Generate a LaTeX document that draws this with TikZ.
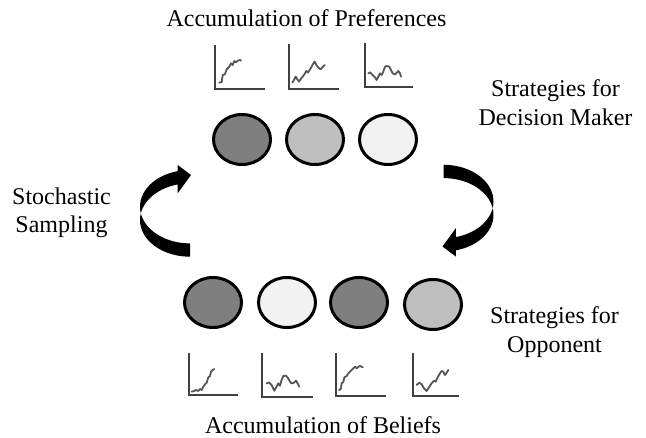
\documentclass[tikz,border=0pt]{standalone}
\usepackage{fontspec}
\setmainfont{Liberation Serif}
\usetikzlibrary{shapes.geometric}
\definecolor{gdark}{HTML}{7F7F7F}
\definecolor{gmid}{HTML}{BFBFBF}
\definecolor{glight}{HTML}{F2F2F2}
\definecolor{axiscol}{HTML}{404040}
\definecolor{curvecol}{HTML}{555555}
\begin{document}
\begin{tikzpicture}[x=1pt,y=-1pt,
  strat/.style={ellipse, draw=black, line width=3pt, minimum width=57pt, minimum height=50pt, inner sep=0pt},
  lbl/.style={font=\fontsize{24}{28.5}\selectfont, inner sep=0pt, align=center},
  axisline/.style={draw=axiscol, line width=1.8pt},
  curveline/.style={draw=curvecol, line width=1.8pt, line join=round, line cap=round},
  curvarrow/.pic={
    \fill[black] plot[domain=90:255.8,samples=50] ({50*cos(\x)},{36.7*sin(\x)})
      -- (-12.3,-26.7) -- (1,-45) -- (-12.3,-55)
      -- plot[domain=255.8:90,samples=50] ({50*cos(\x)},{-13.3+36.7*sin(\x)})
      -- cycle;
  }
]
\useasboundingbox (0,0) rectangle (646,438);

% texts
\node[lbl, anchor=base] (tpref) at (306.5,27) {Accumulation of Preferences};
\node[lbl] (tdm) at (555.5,102.5) {Strategies for\\Decision Maker};
\node[lbl] (tss) at (61.5,212.9) {Stochastic\\Sampling};
\node[lbl] (topp) at (554.5,331.9) {Strategies for\\Opponent};
\node[lbl, anchor=base] (tbel) at (323,434) {Accumulation of Beliefs};

% decision maker strategies
\node[strat, fill=gdark]  (p1) at (242,139.5) {};
\node[strat, fill=gmid]   (p2) at (315,139.5) {};
\node[strat, fill=glight] (p3) at (388,139.5) {};

% opponent strategies
\node[strat, fill=gdark]  (b1) at (213,302.5) {};
\node[strat, fill=glight] (b2) at (287,302.5) {};
\node[strat, fill=gdark]  (b3) at (359,302.5) {};
\node[strat, fill=gmid]   (b4) at (433,304.5) {};

% curved arrows
\pic (arl) at (190,220) {curvarrow};
\pic[rotate=180] (arr) at (443.5,201.5) {curvarrow};

% top charts
\begin{scope}[shift={(215,89)}]
  \draw[axisline] (0,-44) |- (50,0);
  \draw[curveline] (4.3,-6.3) -- (6.7,-7) -- (7.7,-14) -- (10,-14.7) -- (11.7,-19.7) -- (14.3,-22.3) -- (16,-25.7) -- (17.7,-24) -- (19.3,-28) -- (21,-26.7) -- (22.7,-28.3) -- (25,-29) -- (26,-28.3);
\end{scope}
\begin{scope}[shift={(289,89.3)}]
  \draw[axisline] (0,-45) |- (50,0);
  \draw[curveline] (3.3,-6.7) -- (5,-9.3) -- (6.7,-12.7) -- (8.3,-10) -- (10,-7.7) -- (12.3,-11) -- (15,-14.3) -- (17.3,-18.3) -- (19,-16.7) -- (21.7,-21) -- (24,-25.3) -- (25.7,-27.7) -- (27.3,-24.3) -- (30,-21) -- (31.7,-20) -- (34,-22.7) -- (35.7,-24.3);
\end{scope}
\begin{scope}[shift={(365,86.7)}]
  \draw[axisline] (0,-43.4) |- (48,0);
  \draw[curveline] (3.3,-13.3) -- (5,-14.3) -- (7.7,-11.7) -- (10,-9.3) -- (11.7,-6.7) -- (13.3,-10) -- (15,-13.3) -- (16.7,-11.7) -- (18.3,-15) -- (20,-20) -- (21.7,-20.7) -- (24.3,-20) -- (26,-16.7) -- (27.7,-13.3) -- (30,-12.3) -- (31.7,-14) -- (33.3,-15.7) -- (35,-13.3) -- (36,-10);
\end{scope}

% bottom charts
\begin{scope}[shift={(189,395)}]
  \draw[axisline] (0,-42.3) |- (49.3,0);
  \draw[curveline] (2.7,-3.3) -- (5,-4) -- (7,-5) -- (9.3,-4) -- (11,-6) -- (12.7,-5) -- (14.3,-8.3) -- (16,-10.7) -- (17.7,-12.3) -- (19.3,-17.7) -- (21,-19) -- (22,-23.3) -- (23.7,-25) -- (25.3,-26);
\end{scope}
\begin{scope}[shift={(262.3,396.7)}]
  \draw[axisline] (0,-43.4) |- (51,0);
  \draw[curveline] (4.3,-13.3) -- (6.7,-14.3) -- (9.3,-11.7) -- (12,-6) -- (14.3,-10) -- (16,-13.3) -- (17.7,-11) -- (19.3,-16.7) -- (21,-20.7) -- (23.7,-21) -- (26,-18.3) -- (27.7,-15) -- (29.3,-13.3) -- (31.7,-14) -- (33.7,-16) -- (35.3,-13.3) -- (37,-10);
\end{scope}
\begin{scope}[shift={(335.7,396)}]
  \draw[axisline] (0,-43.3) |- (50.3,0);
  \draw[curveline] (3.3,-6) -- (5,-6.7) -- (6,-12.7) -- (7.7,-14.3) -- (8.7,-18.7) -- (11,-20) -- (12.7,-22.7) -- (14.3,-24.3) -- (16,-26) -- (17.7,-27.7) -- (19.3,-29.3) -- (21,-27.7) -- (22.7,-29.3) -- (24.3,-30) -- (27,-28.7);
\end{scope}
\begin{scope}[shift={(413.3,396)}]
  \draw[axisline] (0,-43.3) |- (46,0);
  \draw[curveline] (3.3,-11) -- (6,-13.3) -- (8.3,-11.7) -- (10.7,-7.7) -- (13.3,-5) -- (15.7,-8.7) -- (18.3,-12.7) -- (20.7,-15.3) -- (22.3,-14.3) -- (24.3,-18.7) -- (26.7,-22.7) -- (28.3,-25) -- (30,-24.3) -- (31.7,-21) -- (33.3,-23.3) -- (35,-26);
\end{scope}
\end{tikzpicture}
\end{document}
